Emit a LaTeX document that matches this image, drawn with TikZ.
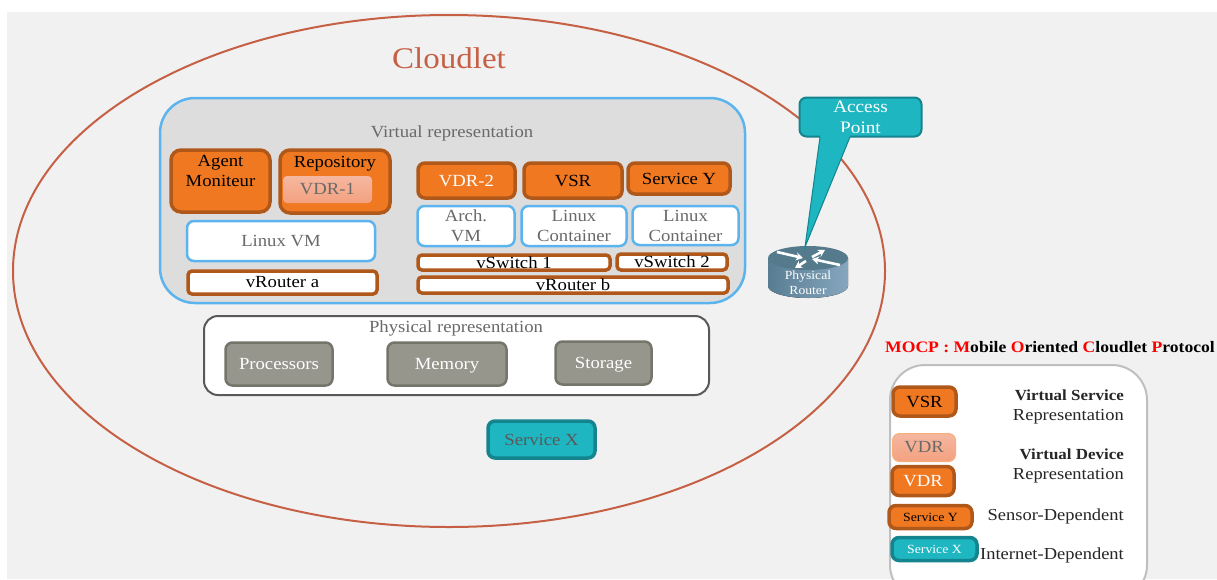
\documentclass[tikz,border=0pt]{standalone}
\usepackage{fontspec}
\setmainfont[FakeStretch=1.1]{Liberation Serif}
\usetikzlibrary{arrows.meta}
\definecolor{CloudRed}{RGB}{197, 96, 68}
\definecolor{PageGray}{RGB}{241, 241, 241}
\definecolor{VirtGray}{RGB}{221, 221, 221}
\definecolor{SkyBlue}{RGB}{91, 180, 238}
\definecolor{OrangeFill}{RGB}{240, 120, 33}
\definecolor{OrangeEdge}{RGB}{176, 88, 26}
\definecolor{TealFill}{RGB}{29, 182, 193}
\definecolor{TealEdge}{RGB}{20, 133, 143}
\definecolor{StoneFill}{RGB}{150, 150, 140}
\definecolor{StoneEdge}{RGB}{117, 117, 107}
\definecolor{TextGray}{RGB}{105, 105, 105}
\definecolor{VdrTop}{RGB}{245, 183, 160}
\definecolor{VdrBottom}{RGB}{244, 161, 127}
\definecolor{RouterLeft}{RGB}{88, 125, 146}
\definecolor{RouterRight}{RGB}{134, 166, 190}
\definecolor{RouterTop}{RGB}{84, 122, 140}
\tikzset{
  basebox/.style={rounded corners=7, align=center, inner sep=0pt, font=\fontsize{17}{20}\selectfont},
  orangebox/.style={basebox, draw=OrangeEdge, fill=OrangeFill, line width=3.5},
  softbox/.style={basebox, draw=none, top color=VdrTop, bottom color=VdrBottom, text=TextGray},
  vmbox/.style={basebox, draw=SkyBlue, fill=white, line width=2.5, text=TextGray},
  routerbox/.style={basebox, rounded corners=4, draw=OrangeEdge, fill=white, line width=3.5},
  stonebox/.style={basebox, draw=StoneEdge, fill=StoneFill, line width=2.5, text=white},
  tealbox/.style={basebox, draw=TealEdge, fill=TealFill, line width=3.5},
  legendtext/.style={align=right, anchor=east, inner sep=0pt, text=black!85, font=\fontsize{16.8}{20}\selectfont},
  routerarrow/.style={white, line width=2.6, -{Stealth[length=7pt,width=8pt]}},
}

\begin{document}
\begin{tikzpicture}[x=1pt, y=-1pt]
  \useasboundingbox (0,0) rectangle (1217,579);
  \clip (0,0) rectangle (1217,579);
  \fill[PageGray] (7,12) rectangle (1217,579);
  % cloudlet
  \draw[CloudRed, line width=2] (449,271) ellipse [x radius=436, y radius=256];
  \node[text=CloudRed, font=\fontsize{30}{34}\selectfont] (cloudlet) at (449,58) {Cloudlet};
  % virtual part
  \draw[SkyBlue, fill=VirtGray, line width=2.5, rounded corners=35] (160,98) rectangle (745,303);
  \node[text=TextGray, font=\fontsize{17}{20}\selectfont] (virtlabel) at (452,133) {Virtual representation};
  \node[orangebox, rounded corners=10, minimum width=99, minimum height=62] (agent) at (220.5,181) {Agent\\Moniteur\\~};
  \node[orangebox, rounded corners=10, minimum width=110, minimum height=63] (repository) at (335,181.5) {Repository\\~\\~};
  \node[softbox, minimum width=89, minimum height=27, rounded corners=4] (vdrone) at (327.5,189.5) {VDR-1};
  \node[vmbox, minimum width=188, minimum height=40] (linuxvm) at (281,241) {Linux VM};
  \node[routerbox, minimum width=189, minimum height=23] (vroutera) at (282.5,282.5) {vRouter a};
  \node[orangebox, minimum width=97, minimum height=35, text=white] (vdrtwo) at (466.5,180.5) {VDR-2};
  \node[orangebox, minimum width=98, minimum height=35] (vsr) at (573,180.5) {VSR};
  \node[orangebox, minimum width=102, minimum height=31] (servicey) at (679,178.5) {Service Y};
  \node[vmbox, minimum width=97, minimum height=40] (archvm) at (466,226) {Arch.\\VM};
  \node[vmbox, minimum width=105, minimum height=40] (containerone) at (574,226) {Linux\\Container};
  \node[vmbox, minimum width=106, minimum height=39] (containertwo) at (685.5,225.5) {Linux\\Container};
  \node[routerbox, minimum width=192, minimum height=15] (vswitchone) at (514,262.5) {vSwitch 1};
  \node[routerbox, minimum width=110, minimum height=16] (vswitchtwo) at (672,262) {vSwitch 2};
  \node[routerbox, minimum width=310, minimum height=16] (vrouterb) at (573,285) {vRouter b};
  % physical part
  \draw[black!65, fill=white, line width=2, rounded corners=14] (204,316) rectangle (709,395);
  \node[text=TextGray, font=\fontsize{17}{20}\selectfont] (physlabel) at (456,328) {Physical representation};
  \node[stonebox, minimum width=107, minimum height=43] (processors) at (279,364) {Processors};
  \node[stonebox, minimum width=119, minimum height=43, text height=15] (memory) at (447,364) {Memory};
  \node[stonebox, minimum width=96, minimum height=43, text height=15] (storage) at (603.5,363) {Storage};
  \node[tealbox, minimum width=107, minimum height=37, text=black!65] (servicex) at (541.5,439.5) {Service X};
  % router
  \fill[left color=RouterLeft, right color=RouterRight] (768,258) -- (768,286) arc[start angle=180, end angle=0, x radius=40, y radius=12] -- (848,258) -- cycle;
  \fill[RouterTop] (808,258) ellipse [x radius=40, y radius=12];
  \draw[routerarrow] (777,252) -- (803,258);
  \draw[routerarrow] (812,257) -- (825,250);
  \draw[routerarrow] (840,265) -- (812,259);
  \draw[routerarrow] (806,261) -- (795,268);
  \node[basebox, text=white, font=\fontsize{12.4}{15}\selectfont] (physrouter) at (808,283) {Physical\\Router};
  % access point
  \node[tealbox, line width=2, minimum width=122, minimum height=39, text=white, font=\fontsize{17.5}{21}\selectfont] (accesspoint) at (860.5,117) {Access\\Point};
  \coordinate (aptip) at (805,247);
  \coordinate (tailleft) at (820,137);
  \coordinate (tailright) at (850,137);
  \fill[TealFill] (tailleft) -- (aptip) -- (tailright) -- ([yshift=5]tailright) -- ([yshift=5]tailleft) -- cycle;
  \draw[TealEdge, line width=1] (tailleft) -- (aptip) -- (tailright);
  % legend
  \node[font=\bfseries\fontsize{16}{20}\selectfont, inner sep=0pt, anchor=east] (mocp) at (1215,347) {\textcolor{red}{MOCP : M}obile \textcolor{red}{O}riented \textcolor{red}{C}loudlet \textcolor{red}{P}rotocol};
  \draw[black!25, fill=white, line width=2, rounded corners=35] (890,365) rectangle (1147,600);
  \node[orangebox, minimum width=63, minimum height=29] (legvsr) at (924.5,401.5) {VSR};
  \node[softbox, draw=OrangeFill!60, line width=1, minimum width=63, minimum height=28] (legvdrsoft) at (924,447.5) {VDR};
  \node[orangebox, minimum width=62, minimum height=29, text=white] (legvdr) at (923,481) {VDR};
  \node[orangebox, minimum width=83, minimum height=23, font=\fontsize{12.5}{15}\selectfont] (legservicey) at (930.5,517) {Service Y};
  \node[tealbox, minimum width=85, minimum height=23, text=white, font=\fontsize{12.5}{15}\selectfont] (legservicex) at (934.5,549) {Service X};
  \node[legendtext] (legvsrtext) at (1124,407) {\textbf{\fontsize{15.4}{20}\selectfont Virtual Service}\\Representation};
  \node[legendtext] (legvdrtext) at (1124,466) {\textbf{\fontsize{15.4}{20}\selectfont Virtual Device}\\Representation};
  \node[legendtext] (legsensor) at (1124,516) {Sensor-Dependent};
  \node[legendtext] (leginternet) at (1124,555) {Internet-Dependent};
\end{tikzpicture}
\end{document}
